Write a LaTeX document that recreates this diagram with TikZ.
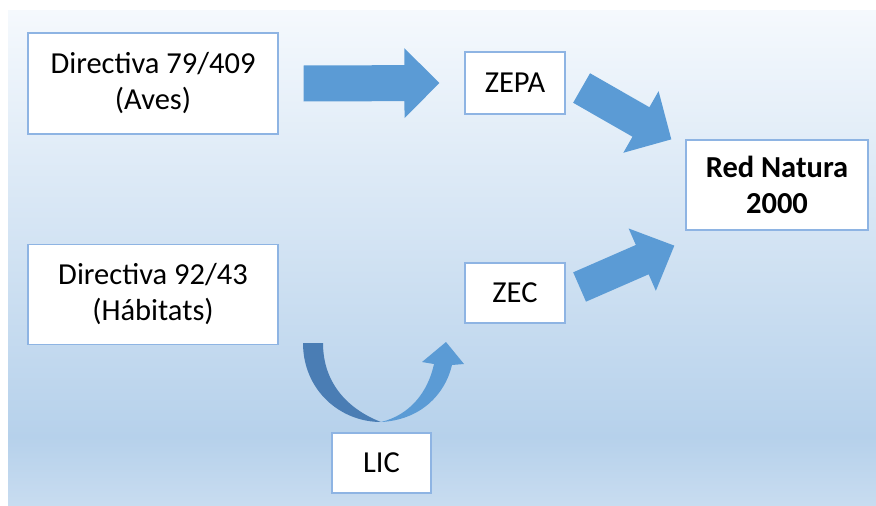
\documentclass[tikz,border=0pt]{standalone}
\usepackage{fontspec}
\setmainfont{Carlito}
\usetikzlibrary{positioning, calc}
\definecolor{boxline}{HTML}{8EB4E3}
\definecolor{arrowblue}{HTML}{5B9BD5}
\definecolor{arrowdark}{HTML}{4A7DB4}
\definecolor{bgtop}{HTML}{F5F9FD}
\definecolor{bgmid}{HTML}{B6D1EB}
\definecolor{bgbot}{HTML}{C8DCF0}
\pgfdeclareverticalshading{panelshade}{100bp}{color(0bp)=(bgbot); color(25bp)=(bgbot); color(32bp)=(bgmid); color(75bp)=(bgtop); color(100bp)=(bgtop)}
% block arrow: tail, tip, shaft half width, head half width
\newcommand{\blockarrow}[4]{%
  \fill[arrowblue] let \p1=($(#2)-(#1)$), \n1={atan2(\y1,\x1)}, \n2={veclen(\x1,\y1)} in
    [shift={(#1)}, rotate=\n1] (0,-#3) -- (\n2-35,-#3) -- (\n2-35,-#4) -- (\n2,0)
    -- (\n2-35,#4) -- (\n2-35,#3) -- (0,#3) -- cycle;}

\begin{document}
\begin{tikzpicture}[x=1pt, y=-1pt,
    % Node styles
    box/.style={rectangle, draw=boxline, fill=white, line width=1.2pt, align=center, inner sep=0pt, font=\fontsize{30.5}{36}\selectfont},
]

% === Background panel ===
\useasboundingbox (0,0) rectangle (876,506);
\fill[white] (0,0) rectangle (876,506);
\shade[shading=panelshade] (8,10) rectangle (876,506);

% === LEFT: Directives ===
\node[box, minimum width=250pt, minimum height=101pt] (aves) at (153,83.5) {Directiva 79/409\\(Aves)};
\node[box, minimum width=250pt, minimum height=100pt, below=109pt of aves] (habitats) {Directiva 92/43\\(Hábitats)};

% === CENTER: Zones ===
\node[box, minimum width=100pt, minimum height=62pt] (zepa) at (515,83) {ZEPA};
\node[box, minimum width=100pt, minimum height=60pt] (zec) at (515,293) {ZEC};
\node[box, minimum width=99pt, minimum height=60pt] (lic) at (381.5,463) {LIC};

% === RIGHT: Network ===
\node[box, minimum width=182pt, minimum height=90pt, font=\fontsize{30.5}{36}\selectfont\bfseries] (red) at (777,185) {Red Natura\\2000};

% Arrow ends (relative to nodes)
\coordinate (aves-out) at ($(aves.east)+(25,0)$);
\coordinate (zepa-in) at ($(zepa.west)+(-25,0)$);
\coordinate (zepa-out) at ($(zepa.east)+(16,5)$);
\coordinate (red-top) at ($(red.north west)+(-14,0)$);
\coordinate (zec-out) at ($(zec.east)+(14,-6)$);
\coordinate (red-bot) at ($(red.south west)+(-11,15)$);

% === Block arrows ===
\blockarrow{aves-out}{zepa-in}{18}{35}
\blockarrow{zepa-out}{red-top}{17}{35.5}
\blockarrow{zec-out}{red-bot}{16}{34}

% LIC turn (habitats -> zec)
\fill[arrowdark] (303,343) .. controls (303,390) and (340,422) .. (381,422)
    .. controls (350,410) and (323,385) .. (323,343) -- cycle;
\fill[arrowblue] (381,422) .. controls (420,420) and (445,395) .. (452,365)
    -- (464,364) -- (446,342) -- (422,362) -- (434,364)
    .. controls (428,392) and (410,415) .. (381,422) -- cycle;

\end{tikzpicture}
\end{document}
